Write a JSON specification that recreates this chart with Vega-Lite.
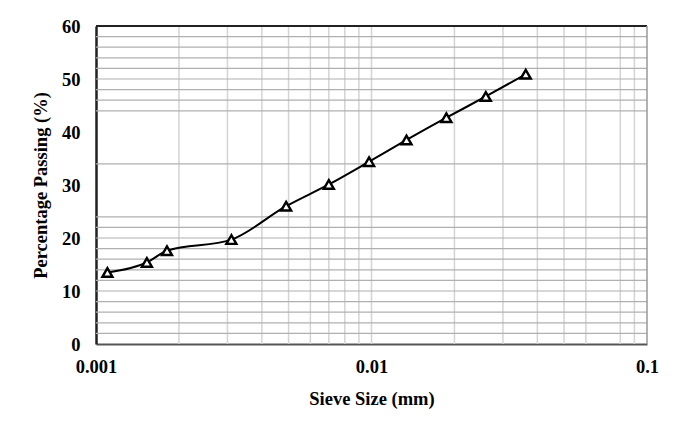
{
  "$schema": "https://vega.github.io/schema/vega-lite/v6.json",
  "width": 551,
  "height": 318,
  "autosize": "none",
  "padding": {"left": 96, "top": 26, "right": 34, "bottom": 81},
  "background": "white",
  "config": {"view": {"stroke": null}, "font": "Liberation Serif"},
  "datasets": {
    "points": [
      {"size": 0.0011, "pct": 13.5},
      {"size": 0.00153, "pct": 15.4},
      {"size": 0.00181, "pct": 17.6},
      {"size": 0.0031, "pct": 19.7},
      {"size": 0.0049, "pct": 26.0},
      {"size": 0.0070, "pct": 30.1},
      {"size": 0.0098, "pct": 34.4},
      {"size": 0.0134, "pct": 38.5},
      {"size": 0.0187, "pct": 42.7},
      {"size": 0.026, "pct": 46.7},
      {"size": 0.0363, "pct": 50.9}
    ],
    "hgrid": [
      {"pct": 2}, {"pct": 4}, {"pct": 6}, {"pct": 8}, {"pct": 10}, {"pct": 12},
      {"pct": 14}, {"pct": 16}, {"pct": 18}, {"pct": 20}, {"pct": 22}, {"pct": 24},
      {"pct": 34}, {"pct": 44}, {"pct": 46}, {"pct": 48}, {"pct": 50}, {"pct": 52},
      {"pct": 54}, {"pct": 56}, {"pct": 58}
    ],
    "vgrid": [
      {"size": 0.002}, {"size": 0.003}, {"size": 0.004}, {"size": 0.005}, {"size": 0.006},
      {"size": 0.007}, {"size": 0.008}, {"size": 0.009}, {"size": 0.01},
      {"size": 0.02}, {"size": 0.03}, {"size": 0.04}, {"size": 0.05}, {"size": 0.06},
      {"size": 0.08}, {"size": 0.09}
    ],
    "frame": [{}]
  },
  "layer": [
    {
      "data": {"name": "vgrid"},
      "mark": {"type": "rule", "color": "#d4d4d4", "strokeWidth": 1.5},
      "encoding": {
        "x": {
          "field": "size", "type": "quantitative",
          "scale": {"type": "log", "domain": [0.001, 0.1]},
          "axis": {
            "values": [0.001, 0.01, 0.1], "format": "~g", "grid": false, "ticks": false, "labelFlush": false,
            "domainColor": "#555555", "domainWidth": 2,
            "labelFontSize": 18.5, "labelFontWeight": "bold", "labelColor": "black", "labelPadding": 13,
            "title": "Sieve Size (mm)", "titleFontSize": 18.5, "titleFontWeight": "bold", "titleColor": "black", "titlePadding": 14
          }
        }
      }
    },
    {
      "data": {"name": "hgrid"},
      "mark": {"type": "rule", "color": "#b0b0b0", "strokeWidth": 1.2},
      "encoding": {
        "y": {
          "field": "pct", "type": "quantitative",
          "scale": {"domain": [0, 60]},
          "axis": {
            "values": [0, 10, 20, 30, 40, 50, 60], "grid": false, "ticks": false,
            "domainColor": "#222222", "domainWidth": 2.5,
            "labelFontSize": 18.5, "labelFontWeight": "bold", "labelColor": "black", "labelPadding": 16,
            "title": "Percentage Passing (%)", "titleFontSize": 18.5, "titleFontWeight": "bold", "titleColor": "black", "titlePadding": 11
          }
        }
      }
    },
    {
      "data": {"name": "frame"},
      "mark": {"type": "rule", "color": "#222222", "strokeWidth": 2},
      "encoding": {"y": {"datum": 60, "type": "quantitative"}}
    },
    {
      "data": {"name": "frame"},
      "mark": {"type": "rule", "color": "#999999", "strokeWidth": 1.5},
      "encoding": {"x": {"datum": 0.1, "type": "quantitative"}}
    },
    {
      "data": {"name": "points"},
      "mark": {"type": "line", "interpolate": "monotone", "color": "black", "strokeWidth": 2},
      "encoding": {
        "x": {"field": "size", "type": "quantitative"},
        "y": {"field": "pct", "type": "quantitative"}
      }
    },
    {
      "data": {"name": "points"},
      "mark": {"type": "point", "shape": "triangle-up", "filled": true, "fill": "white", "stroke": "black", "strokeWidth": 2.4, "size": 100, "opacity": 1},
      "encoding": {
        "x": {"field": "size", "type": "quantitative"},
        "y": {"field": "pct", "type": "quantitative"}
      }
    }
  ]
}
